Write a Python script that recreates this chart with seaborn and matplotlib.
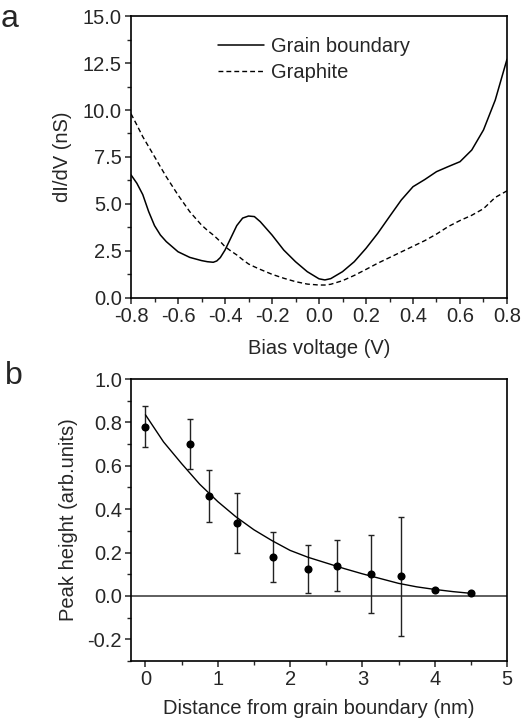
import numpy as np
import pandas as pd
import matplotlib
matplotlib.use("Agg")
import matplotlib.pyplot as plt
from matplotlib.ticker import MultipleLocator, FormatStrFormatter
import seaborn as sns

# ---- Panel a data ----
bias = [-0.8, -0.775, -0.75, -0.725, -0.7, -0.675, -0.65, -0.6, -0.55, -0.5, -0.475,
        -0.45, -0.435, -0.42, -0.4, -0.375, -0.35, -0.325, -0.3, -0.275, -0.25,
        -0.2, -0.15, -0.1, -0.05, 0.0, 0.025, 0.05,
        0.1, 0.15, 0.2, 0.25, 0.3, 0.35, 0.4, 0.45, 0.5, 0.55, 0.6, 0.65, 0.7,
        0.75, 0.8]
grain_boundary = [6.55, 6.1, 5.5, 4.6, 3.85, 3.35, 3.0, 2.46, 2.16, 1.99, 1.93,
                  1.9, 1.97, 2.15, 2.55, 3.2, 3.85, 4.25, 4.36, 4.33, 4.06,
                  3.35, 2.55, 1.93, 1.4, 1.02, 0.96, 1.03,
                  1.4, 1.93, 2.64, 3.44, 4.33, 5.21, 5.92, 6.3, 6.72, 6.99, 7.25,
                  7.87, 8.94, 10.53, 12.7]
graphite = [9.8, 9.2, 8.58, 8.05, 7.52, 6.98, 6.45, 5.48, 4.59, 3.88, 3.6,
            3.35, 3.18, 3.0, 2.73, 2.5, 2.29, 2.04, 1.81, 1.66, 1.52,
            1.26, 1.05, 0.87, 0.74, 0.69, 0.69, 0.73,
            0.92, 1.2, 1.52, 1.85, 2.15, 2.45, 2.75, 3.05, 3.4, 3.8, 4.12,
            4.4, 4.75, 5.35, 5.7]

# ---- Panel b data ----
distance = [0.0, 0.62, 0.88, 1.26, 1.76, 2.25, 2.65, 3.12, 3.53, 4.0, 4.5]
peak_height = [0.78, 0.70, 0.46, 0.335, 0.178, 0.124, 0.14, 0.10, 0.09, 0.027, 0.012]
peak_err = [0.095, 0.117, 0.12, 0.138, 0.115, 0.11, 0.118, 0.18, 0.276, 0.0, 0.0]

fit_x = [0.0, 0.25, 0.5, 0.75, 1.0, 1.25, 1.5, 1.75, 2.0, 2.25, 2.5, 2.75,
         3.0, 3.25, 3.5, 3.75, 4.0, 4.25, 4.5]
fit_y = [0.835, 0.71, 0.61, 0.515, 0.435, 0.365, 0.305, 0.255, 0.21, 0.178,
         0.152, 0.126, 0.102, 0.08, 0.058, 0.042, 0.030, 0.02, 0.012]

sns.set_style("ticks")
plt.rcParams['font.family'] = ['Liberation Sans', 'DejaVu Sans']
plt.rcParams['axes.unicode_minus'] = False
plt.rcParams['xtick.direction'] = 'out'
plt.rcParams['ytick.direction'] = 'out'

FS = 14.5
fig = plt.figure(figsize=(5.23, 7.21), dpi=100)
ax1 = fig.add_axes([0.2505, 0.5867, 0.7189, 0.3911])
ax2 = fig.add_axes([0.2505, 0.0832, 0.7189, 0.3911])

dfa = pd.DataFrame({"bias": bias, "gb": grain_boundary, "gr": graphite})
sns.lineplot(data=dfa, x="bias", y="gb", ax=ax1, color="black", lw=1.1,
             label="Grain boundary")
sns.lineplot(data=dfa, x="bias", y="gr", ax=ax1, color="black", lw=1.0,
             linestyle=(0, (3.5, 2.2)), label="Graphite")
ax1.set_xlim(-0.8, 0.8)
ax1.set_ylim(0, 15)
ax1.xaxis.set_major_locator(MultipleLocator(0.2))
ax1.xaxis.set_minor_locator(MultipleLocator(0.1))
ax1.yaxis.set_major_locator(MultipleLocator(2.5))
ax1.yaxis.set_minor_locator(MultipleLocator(1.25))
ax1.xaxis.set_major_formatter(FormatStrFormatter('%.1f'))
ax1.yaxis.set_major_formatter(FormatStrFormatter('%.1f'))
ax1.set_xlabel("Bias voltage (V)", fontsize=FS, labelpad=9)
ax1.set_ylabel("dI/dV (nS)", fontsize=FS, labelpad=8)
leg = ax1.legend(loc="upper left", bbox_to_anchor=(0.2, 0.968), frameon=False,
                 fontsize=FS, handlelength=2.25, handletextpad=0.35,
                 labelspacing=0.33, borderaxespad=0.2)

dfb = pd.DataFrame({"d": distance, "h": peak_height, "e": peak_err})
dff = pd.DataFrame({"x": fit_x, "y": fit_y})
ax2.axhline(0, color="#333333", lw=1.1, zorder=1)
ax2.errorbar(dfb["d"], dfb["h"], yerr=dfb["e"], fmt="none", ecolor="#222222",
             elinewidth=1.0, capsize=2.5, capthick=1.0, zorder=2)
sns.lineplot(data=dff, x="x", y="y", ax=ax2, color="black", lw=1.0, zorder=3)
sns.scatterplot(data=dfb, x="d", y="h", ax=ax2, color="black", s=34,
                edgecolor="black", linewidth=0, zorder=4)
ax2.set_xlim(-0.2, 5)
ax2.set_ylim(-0.3, 1.0)
ax2.xaxis.set_major_locator(MultipleLocator(1))
ax2.xaxis.set_minor_locator(MultipleLocator(0.5))
ax2.yaxis.set_major_locator(MultipleLocator(0.2))
ax2.yaxis.set_minor_locator(MultipleLocator(0.1))
ax2.yaxis.set_major_formatter(FormatStrFormatter('%.1f'))
ax2.set_xlabel("Distance from grain boundary (nm)", fontsize=FS, labelpad=7)
ax2.set_ylabel("Peak height (arb.units)", fontsize=FS, labelpad=7)

for ax in (ax1, ax2):
    for s in ax.spines.values():
        s.set_visible(True)
        s.set_linewidth(1.2)
        s.set_color("black")
    ax.tick_params(which="major", length=4, width=1.1, labelsize=FS, pad=2.5)
    ax.tick_params(which="minor", length=3, width=1.0)

fig.text(0.002, 0.995, "a", fontsize=23, va="top", ha="left")
fig.text(0.010, 0.500, "b", fontsize=23, va="top", ha="left")

fig.savefig("out.png", dpi=100)
